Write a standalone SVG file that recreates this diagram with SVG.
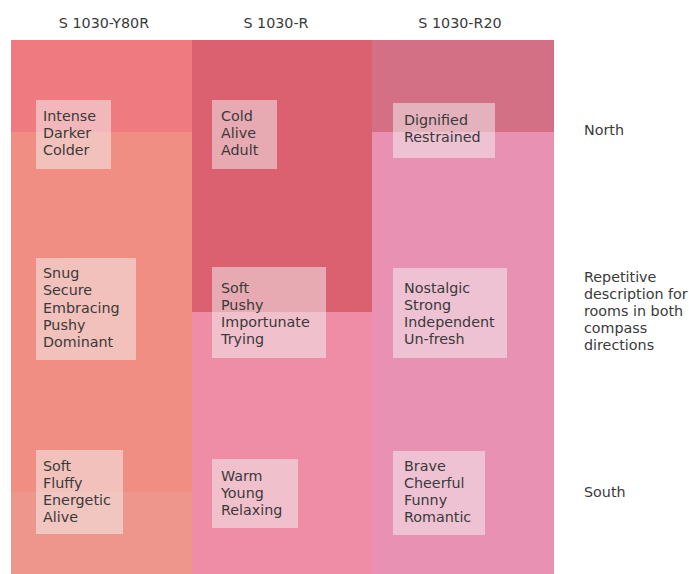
<svg xmlns="http://www.w3.org/2000/svg" width="689" height="574" viewBox="0 0 689 574">
<style>
text{font-family:"DejaVu Sans","Verdana",sans-serif;font-size:14.3px;fill:#3a3a3a}
.hd{text-anchor:middle}
.box{fill:#f4f4f4;fill-opacity:0.5}
</style>
<rect width="689" height="574" fill="#ffffff"/>
<g id="column-y80r">
<rect x="11" y="40" width="181" height="92" fill="#EF7B80"/>
<rect x="11" y="132" width="181" height="360" fill="#F08E84"/>
<rect x="11" y="492" width="181" height="82" fill="#EE968C"/>
<text class="hd" x="104" y="28">S 1030-Y80R</text>
</g>
<g id="column-r">
<rect x="192" y="40" width="180" height="272" fill="#DC6170"/>
<rect x="192" y="312" width="180" height="262" fill="#EF8CA6"/>
<text class="hd" x="276" y="28">S 1030-R</text>
</g>
<g id="column-r20">
<rect x="372" y="40" width="182" height="92" fill="#D47086"/>
<rect x="372" y="132" width="182" height="442" fill="#E991B3"/>
<text class="hd" x="460" y="28">S 1030-R20</text>
</g>
<g id="y80r-north">
<rect class="box" x="36" y="100" width="75" height="69"/>
<text x="43" y="121">Intense</text>
<text x="43" y="138">Darker</text>
<text x="43" y="155">Colder</text>
</g>
<g id="r-north">
<rect class="box" x="212" y="100" width="65" height="69"/>
<text x="221" y="121">Cold</text>
<text x="221" y="138">Alive</text>
<text x="221" y="155">Adult</text>
</g>
<g id="r20-north">
<rect class="box" x="393" y="103" width="102" height="55"/>
<text x="404" y="125">Dignified</text>
<text x="404" y="142">Restrained</text>
</g>
<g id="y80r-both">
<rect class="box" x="36" y="258" width="100" height="102"/>
<text x="43" y="278">Snug</text>
<text x="43" y="295">Secure</text>
<text x="43" y="313">Embracing</text>
<text x="43" y="330">Pushy</text>
<text x="43" y="347">Dominant</text>
</g>
<g id="r-both">
<rect class="box" x="212" y="267" width="114" height="91"/>
<text x="221" y="293">Soft</text>
<text x="221" y="310">Pushy</text>
<text x="221" y="327">Importunate</text>
<text x="221" y="344">Trying</text>
</g>
<g id="r20-both">
<rect class="box" x="393" y="268" width="114" height="90"/>
<text x="404" y="293">Nostalgic</text>
<text x="404" y="310">Strong</text>
<text x="404" y="327">Independent</text>
<text x="404" y="344">Un-fresh</text>
</g>
<g id="y80r-south">
<rect class="box" x="36" y="450" width="87" height="84"/>
<text x="43" y="471">Soft</text>
<text x="43" y="488">Fluffy</text>
<text x="43" y="505">Energetic</text>
<text x="43" y="522">Alive</text>
</g>
<g id="r-south">
<rect class="box" x="212" y="459" width="86" height="69"/>
<text x="221" y="481">Warm</text>
<text x="221" y="498">Young</text>
<text x="221" y="515">Relaxing</text>
</g>
<g id="r20-south">
<rect class="box" x="393" y="451" width="92" height="84"/>
<text x="404" y="471">Brave</text>
<text x="404" y="488">Cheerful</text>
<text x="404" y="505">Funny</text>
<text x="404" y="522">Romantic</text>
</g>
<g id="labels">
<text x="584" y="135">North</text>
<text x="584" y="282">Repetitive</text>
<text x="584" y="299">description for</text>
<text x="584" y="316">rooms in both</text>
<text x="584" y="333">compass</text>
<text x="584" y="350">directions</text>
<text x="584" y="497">South</text>
</g>
<g id="connectors"/>
</svg>
